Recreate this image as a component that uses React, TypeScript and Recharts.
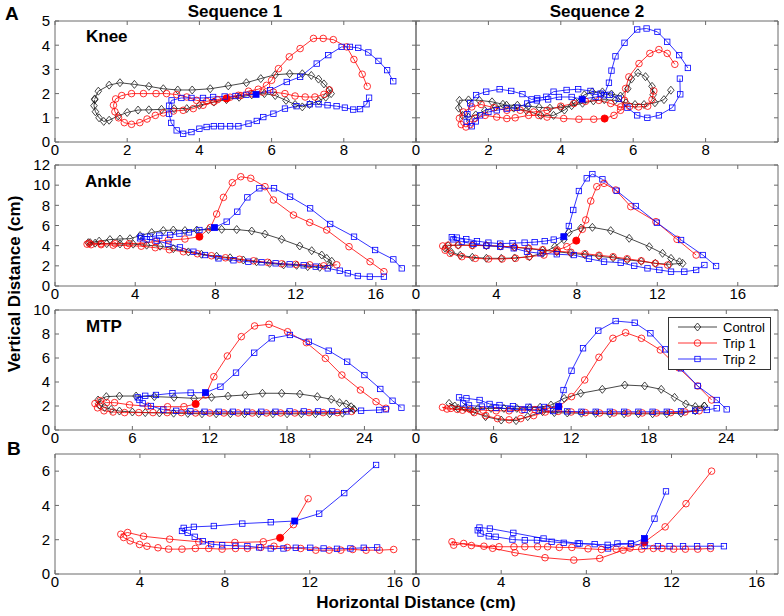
import React from 'react';
import { LineChart, Line, XAxis, YAxis } from 'recharts';

type Pt = [number, number];

// ---------- Knee ----------
const kneeSeq1Control: Pt[] = [
  [1.1, 1.78], [1.2, 2.1], [1.5, 2.35], [1.8, 2.45], [2.2, 2.38], [2.6, 2.3], [3.0, 2.2], [3.4, 2.15],
  [3.8, 2.15], [4.3, 2.2], [4.8, 2.32], [5.3, 2.45], [5.7, 2.62], [6.1, 2.78], [6.5, 2.82], [6.85, 2.82],
  [7.1, 2.75], [7.3, 2.6], [7.45, 2.4], [7.6, 2.15], [7.65, 2.0], [7.5, 1.85], [7.3, 1.7], [7.05, 1.55],
  [6.85, 1.45], [6.65, 1.55], [6.4, 1.72], [6.1, 1.92], [5.8, 2.0], [5.45, 1.95], [5.1, 1.85], [4.75, 1.75],
  [4.4, 1.65], [4.0, 1.52], [3.65, 1.38], [3.3, 1.38], [2.95, 1.35], [2.6, 1.33], [2.3, 1.32], [2.0, 1.22],
  [1.75, 1.08], [1.5, 0.9], [1.35, 0.85], [1.22, 1.0], [1.12, 1.25], [1.08, 1.5], [1.1, 1.75],
];
const kneeSeq1Trip1Pre: Pt[] = [
  [7.6, 2.15], [7.45, 1.97], [7.2, 1.86], [6.93, 1.86], [6.65, 1.9], [6.37, 2.0], [6.05, 2.06], [5.75, 2.06],
  [5.45, 2.0], [5.15, 1.92], [4.85, 1.85], [4.5, 1.75], [4.2, 1.68], [3.92, 1.72], [3.65, 1.86], [3.37, 1.96],
  [3.09, 2.0], [2.8, 2.0], [2.45, 2.0], [2.12, 2.0], [1.85, 1.92], [1.68, 1.78], [1.62, 1.52], [1.66, 1.25],
  [1.76, 1.0], [1.92, 0.8], [2.12, 0.73], [2.35, 0.8], [2.55, 0.95], [2.78, 1.1], [3.0, 1.2], [3.28, 1.28],
  [3.55, 1.31], [3.83, 1.38], [4.1, 1.52], [4.4, 1.66],
];
const kneeSeq1Trip1Post: Pt[] = [
  [4.75, 1.8], [5.08, 1.93], [5.36, 2.1], [5.63, 2.18], [5.86, 2.34], [6.0, 2.55], [6.19, 3.03], [6.49, 3.52],
  [6.79, 3.86], [7.16, 4.28], [7.43, 4.28], [7.71, 4.23], [8.08, 3.93], [8.28, 3.41], [8.51, 2.8], [8.65, 2.3],
];
const kneeSeq1Trip2Pre: Pt[] = [
  [8.7, 1.83], [8.63, 1.56], [8.45, 1.36], [8.26, 1.34], [8.03, 1.42], [7.8, 1.48], [7.55, 1.52], [7.3, 1.56],
  [7.06, 1.56], [6.69, 1.48], [6.37, 1.38], [6.05, 1.17], [5.77, 1.03], [5.59, 0.87], [5.36, 0.76], [5.08, 0.65],
  [4.85, 0.65], [4.6, 0.65], [4.4, 0.65], [4.2, 0.62], [4.0, 0.55], [3.78, 0.41], [3.55, 0.34], [3.37, 0.48],
  [3.22, 0.79], [3.16, 1.17], [3.16, 1.5], [3.23, 1.72], [3.5, 1.82], [3.78, 1.82], [4.1, 1.82], [4.38, 1.86],
  [4.7, 1.88], [5.0, 1.9], [5.3, 1.95],
];
const kneeSeq1Trip2Post: Pt[] = [
  [5.57, 1.97], [5.96, 2.14], [6.42, 2.48], [6.79, 2.69], [7.25, 3.24], [7.57, 3.59], [7.94, 3.93], [8.17, 3.93],
  [8.4, 3.89], [8.68, 3.7], [8.96, 3.35], [9.2, 2.97], [9.37, 2.51],
];
const kneeSeq2Control: Pt[] = [
  [7.04, 2.14], [6.85, 1.75], [6.6, 1.62], [6.3, 1.55], [6.05, 1.55], [5.8, 1.62], [5.5, 1.72], [5.2, 1.75],
  [4.9, 1.7], [4.6, 1.6], [4.3, 1.5], [4.0, 1.42], [3.7, 1.4], [3.4, 1.43], [3.1, 1.48], [2.8, 1.52],
  [2.5, 1.52], [2.2, 1.45], [1.9, 1.3], [1.65, 1.12], [1.45, 1.02], [1.28, 1.1], [1.18, 1.4], [1.2, 1.72],
  [1.45, 1.74], [1.75, 1.72], [2.1, 1.66], [2.4, 1.56], [2.7, 1.4], [3.05, 1.3], [3.45, 1.1], [3.8, 1.1],
  [4.1, 1.32], [4.4, 1.65], [4.65, 1.95], [4.87, 2.07], [5.15, 2.07], [5.4, 1.98], [5.65, 1.9], [5.85, 2.2],
  [5.95, 2.6], [6.13, 2.86], [6.34, 2.7], [6.52, 2.3], [6.55, 1.95],
];
const kneeSeq2Trip1Pre: Pt[] = [
  [6.57, 2.11], [6.52, 1.75], [6.4, 1.48], [6.15, 1.45], [5.9, 1.47], [5.65, 1.45], [5.38, 1.59], [5.05, 1.72],
  [4.68, 1.68], [4.36, 1.59], [4.0, 1.48], [3.62, 1.31], [3.25, 1.24], [2.88, 1.31], [2.51, 1.31], [2.15, 1.42],
  [1.8, 1.55], [1.54, 1.45], [1.31, 1.24], [1.2, 0.98], [1.25, 0.72], [1.38, 0.62], [1.5, 0.72], [1.63, 0.98],
  [1.91, 1.1], [2.23, 1.03], [2.51, 0.97], [2.74, 1.0], [3.11, 1.1], [3.39, 1.1], [3.62, 1.03], [4.08, 0.97],
  [4.5, 0.94], [4.91, 0.94],
];
const kneeSeq2Trip1Post: Pt[] = [
  [5.21, 0.97], [5.47, 1.1], [5.65, 1.31], [5.76, 1.72], [5.79, 2.21], [5.88, 2.69], [6.16, 3.24], [6.46, 3.66],
  [6.71, 3.82], [6.94, 3.66], [7.15, 3.21],
];
const kneeSeq2Trip2Pre: Pt[] = [
  [7.29, 2.62], [7.3, 1.97], [7.08, 1.42], [6.71, 1.1], [6.39, 1.0], [6.11, 1.1], [5.84, 1.42], [5.6, 1.79],
  [5.35, 1.95], [5.1, 2.0], [4.82, 2.11], [4.48, 2.18], [4.16, 2.15], [3.8, 2.08], [3.6, 1.87], [3.35, 1.8],
  [3.19, 1.76], [2.94, 1.98], [2.63, 2.11], [2.31, 2.18], [1.94, 2.08], [1.66, 1.94], [1.5, 1.6], [1.42, 1.15],
  [1.4, 0.83], [1.54, 0.65], [1.65, 0.85], [1.77, 1.1], [2.0, 1.24], [2.23, 1.31], [2.51, 1.38], [2.79, 1.42],
  [3.07, 1.59], [3.34, 1.72], [3.65, 1.76], [3.95, 1.86], [4.3, 1.86],
];
const kneeSeq2Trip2Post: Pt[] = [
  [4.59, 1.77], [4.96, 1.86], [5.19, 1.93], [5.33, 2.45], [5.4, 2.95], [5.51, 3.54], [5.76, 4.1], [6.11, 4.65],
  [6.37, 4.69], [6.67, 4.55], [6.94, 4.14], [7.27, 3.59], [7.51, 3.06],
];

// ---------- Ankle ----------
const ankleSeq1Control: Pt[] = [
  [1.75, 4.3], [2.2, 4.45], [2.74, 4.6], [3.24, 4.66], [3.74, 4.69], [4.24, 5.0], [4.82, 5.3], [5.4, 5.5],
  [5.9, 5.55], [6.48, 5.5], [7.07, 5.55], [7.65, 5.6], [8.31, 5.62], [9.06, 5.6], [9.81, 5.45], [10.47, 5.15],
  [11.3, 4.63], [12.2, 3.97], [12.8, 3.5], [13.3, 3.07], [13.55, 2.74], [13.8, 2.45], [13.7, 2.05], [13.2, 1.85],
  [12.6, 1.92], [12.05, 2.05], [11.4, 2.1], [10.7, 2.25], [10.05, 2.4], [9.39, 2.58], [8.73, 2.8], [8.06, 2.95],
  [7.3, 3.15], [6.65, 3.38], [5.9, 3.7], [5.24, 3.95], [4.57, 4.05], [3.9, 4.15], [3.24, 4.17], [2.58, 4.2],
  [2.0, 4.25], [1.66, 4.3],
];
const ankleSeq1Trip1Pre: Pt[] = [
  [14.05, 2.1], [13.4, 2.0], [12.7, 2.1], [12.0, 2.15], [11.3, 2.2], [10.6, 2.35], [9.9, 2.5], [9.2, 2.65],
  [8.5, 2.8], [7.8, 3.0], [7.1, 3.2], [6.4, 3.4], [5.7, 3.6], [5.0, 3.8], [4.3, 3.95], [3.6, 4.0],
  [2.9, 4.05], [2.3, 4.1], [1.8, 4.1], [1.6, 4.15], [1.7, 4.25], [2.3, 4.2], [3.0, 4.2], [3.7, 4.2],
  [4.4, 4.25], [5.0, 4.4], [5.65, 4.56], [6.48, 4.66],
];
const ankleSeq1Trip1Post: Pt[] = [
  [7.2, 4.89], [7.75, 5.8], [8.06, 7.14], [8.4, 8.79], [8.84, 10.25], [9.26, 10.84], [9.76, 10.68], [10.47, 9.85],
  [10.89, 8.53], [11.89, 7.04], [12.7, 6.3], [13.55, 5.55], [14.66, 3.9], [15.71, 2.41], [16.4, 1.42],
];
const ankleSeq1Trip2Pre: Pt[] = [
  [16.4, 0.93], [15.7, 0.93], [15.1, 0.99], [14.6, 1.26], [14.2, 1.52], [13.6, 1.75], [13.0, 1.92], [12.4, 2.05],
  [11.7, 2.15], [11.0, 2.25], [10.3, 2.35], [9.64, 2.41], [8.9, 2.55], [8.15, 2.74], [7.48, 3.07], [6.9, 3.4],
  [6.23, 3.83], [5.65, 4.17], [5.07, 4.5], [4.57, 4.63], [4.24, 4.73], [4.3, 4.9], [4.74, 4.89], [5.2, 5.0],
  [5.74, 5.06], [6.2, 5.2], [6.68, 5.32], [7.2, 5.55],
];
const ankleSeq1Trip2Post: Pt[] = [
  [7.95, 5.79], [8.56, 6.38], [9.09, 7.37], [9.59, 8.79], [10.19, 9.69], [10.92, 9.69], [11.72, 8.86], [12.72, 7.7],
  [13.72, 6.15], [14.91, 4.89], [15.96, 3.57], [16.87, 2.64], [17.29, 1.75],
];
const ankleSeq2Control: Pt[] = [
  [13.26, 2.25], [12.6, 2.15], [11.9, 2.25], [11.2, 2.45], [10.5, 2.6], [9.8, 2.8], [9.1, 2.95], [8.4, 3.1],
  [7.7, 3.25], [7.0, 3.4], [6.3, 3.55], [5.6, 3.7], [4.9, 3.85], [4.2, 3.95], [3.5, 4.0], [2.8, 4.05],
  [2.1, 4.05], [1.6, 4.0], [1.45, 3.75], [1.75, 3.35], [2.2, 3.05], [2.8, 2.85], [3.5, 2.75], [4.24, 2.74],
  [4.9, 2.78], [5.65, 2.91], [6.3, 3.25], [6.9, 3.9], [7.35, 4.6], [7.6, 5.3], [8.2, 5.75], [8.77, 5.82],
  [9.68, 5.49], [10.6, 4.73], [11.6, 3.9], [12.26, 3.24], [12.68, 2.74], [13.1, 2.4],
];
const ankleSeq2Trip1Pre: Pt[] = [
  [12.51, 2.08], [11.9, 2.25], [11.2, 2.5], [10.5, 2.7], [9.8, 2.9], [9.1, 3.05], [8.4, 3.2], [7.7, 3.35],
  [7.0, 3.45], [6.3, 3.6], [5.6, 3.75], [4.9, 3.85], [4.2, 3.95], [3.5, 4.0], [2.8, 4.02], [2.1, 4.05],
  [1.6, 4.05], [1.33, 3.97], [1.45, 3.55], [1.7, 3.24], [2.28, 2.91], [2.95, 2.74], [3.61, 2.68], [4.28, 2.68],
  [4.95, 2.75], [5.61, 2.91], [6.36, 3.07], [7.02, 3.57], [7.5, 3.9],
];
const ankleSeq2Trip1Post: Pt[] = [
  [7.97, 4.5], [8.27, 5.62], [8.44, 6.55], [8.69, 8.43], [8.99, 9.85], [9.35, 10.18], [9.93, 9.52], [10.68, 7.87],
  [11.93, 6.38], [12.98, 4.63], [13.93, 3.07],
];
const ankleSeq2Trip2Pre: Pt[] = [
  [14.34, 2.08], [13.93, 1.59], [13.34, 1.42], [12.68, 1.42], [12.1, 1.59], [11.51, 1.75], [10.85, 2.0], [10.18, 2.31],
  [9.35, 2.41], [8.6, 2.7], [7.85, 3.07], [7.0, 3.15], [6.19, 3.24], [5.52, 3.4], [4.86, 3.74], [4.19, 3.9],
  [3.5, 4.0], [2.86, 4.17], [2.28, 4.4], [1.86, 4.63], [1.78, 4.83], [2.03, 4.8], [2.5, 4.65], [3.03, 4.45],
  [3.6, 4.3], [4.19, 4.2], [4.8, 4.25], [5.4, 4.3], [5.9, 4.35], [6.4, 4.45], [6.85, 4.6],
];
const ankleSeq2Trip2Post: Pt[] = [
  [7.35, 4.89], [7.6, 5.95], [7.82, 7.54], [8.1, 9.42], [8.49, 10.68], [8.77, 11.1], [9.27, 10.58], [9.98, 9.45],
  [10.93, 7.93], [11.98, 6.28], [13.18, 4.56], [14.26, 3.07], [14.92, 1.98],
];

// ---------- MTP ----------
const mtpSeq1Control: Pt[] = [
  [23.18, 1.72], [22.3, 1.4], [21.3, 1.35], [20.2, 1.35], [19.1, 1.35], [18.0, 1.35], [16.9, 1.35], [15.8, 1.35],
  [14.7, 1.35], [13.6, 1.35], [12.5, 1.35], [11.4, 1.35], [10.3, 1.38], [9.2, 1.4], [8.1, 1.42], [7.0, 1.45],
  [6.0, 1.5], [5.0, 1.58], [4.36, 1.72], [3.85, 1.89], [3.47, 2.08], [3.34, 2.5], [3.98, 2.78], [5.0, 2.83],
  [6.29, 2.83], [7.7, 2.78], [9.24, 2.72], [10.78, 2.64], [12.14, 2.72], [13.42, 2.83], [14.76, 2.92], [16.09, 3.06],
  [17.58, 3.06], [18.99, 3.0], [20.35, 2.78], [21.43, 2.56], [22.07, 2.28], [22.59, 2.17], [22.97, 1.94], [23.18, 1.72],
];
const mtpSeq1Trip1Pre: Pt[] = [
  [23.0, 1.55], [21.9, 1.45], [20.8, 1.45], [19.7, 1.45], [18.6, 1.42], [17.5, 1.42], [16.4, 1.42], [15.3, 1.42],
  [14.2, 1.42], [13.1, 1.42], [12.0, 1.42], [10.9, 1.42], [9.8, 1.45], [8.7, 1.45], [7.6, 1.45], [6.5, 1.45],
  [5.4, 1.45], [4.5, 1.5], [3.8, 1.6], [3.3, 1.85], [3.1, 2.2], [3.5, 2.45], [4.0, 2.28], [4.62, 2.28],
  [5.78, 2.1], [7.2, 1.98], [8.73, 1.94], [10.0, 1.94],
];
const mtpSeq1Trip1Post: Pt[] = [
  [10.91, 2.17], [11.68, 2.92], [12.32, 4.44], [13.37, 6.17], [14.45, 7.78], [15.48, 8.67], [16.6, 8.81], [18.04, 8.19],
  [19.5, 7.28], [20.97, 5.97], [22.25, 4.58], [23.69, 3.33], [24.9, 2.36], [25.67, 1.81],
];
const mtpSeq1Trip2Pre: Pt[] = [
  [25.67, 1.72], [25.15, 1.67], [23.74, 1.61], [22.6, 1.55], [21.5, 1.55], [20.4, 1.55], [19.3, 1.55], [18.2, 1.55],
  [17.1, 1.52], [16.0, 1.52], [14.9, 1.52], [13.8, 1.52], [12.7, 1.52], [11.6, 1.52], [10.5, 1.55], [9.4, 1.6],
  [8.4, 1.7], [7.44, 2.0], [6.8, 2.22], [6.55, 2.5], [6.42, 2.72], [7.0, 2.85], [7.83, 2.92], [9.11, 3.06],
  [10.52, 3.11],
];
const mtpSeq1Trip2Post: Pt[] = [
  [11.68, 3.11], [12.83, 3.61], [14.04, 4.78], [15.45, 6.44], [16.81, 7.64], [18.22, 7.92], [19.69, 7.36], [21.23, 6.61],
  [22.66, 5.69], [24.0, 4.58], [25.23, 3.42], [26.18, 2.44], [26.87, 1.86],
];
const mtpSeq2Control: Pt[] = [
  [22.3, 2.0], [21.6, 1.6], [20.5, 1.4], [19.4, 1.35], [18.3, 1.35], [17.2, 1.35], [16.1, 1.35], [15.0, 1.35],
  [13.9, 1.38], [12.8, 1.4], [11.7, 1.42], [10.7, 1.45], [9.79, 1.53], [8.64, 1.11], [7.74, 0.78], [6.59, 0.83],
  [5.38, 1.11], [4.41, 1.53], [3.26, 1.81], [2.56, 2.22], [3.0, 2.0], [3.8, 1.85], [4.8, 1.8], [5.8, 1.8],
  [6.8, 1.8], [7.8, 1.8], [8.8, 1.85], [9.6, 1.9], [10.44, 2.08], [11.46, 2.64], [12.74, 3.06], [14.41, 3.39],
  [16.15, 3.75], [17.69, 3.67], [18.97, 3.39], [20.0, 2.72], [20.87, 2.17], [21.6, 1.95], [22.3, 2.0],
];
const mtpSeq2Trip1Pre: Pt[] = [
  [21.9, 1.6], [20.8, 1.5], [19.7, 1.45], [18.6, 1.42], [17.5, 1.42], [16.4, 1.42], [15.3, 1.42], [14.2, 1.42],
  [13.1, 1.45], [12.0, 1.5], [11.0, 1.55], [10.0, 1.5], [9.1, 1.2], [8.1, 0.95], [7.2, 0.85], [6.3, 0.95],
  [5.4, 1.2], [4.5, 1.45], [3.6, 1.65], [2.7, 1.8], [2.05, 1.89], [2.4, 1.75], [3.2, 1.72], [4.2, 1.7],
  [5.2, 1.65], [6.2, 1.6], [7.2, 1.6], [8.2, 1.65], [9.2, 1.7], [10.2, 1.8],
];
const mtpSeq2Trip1Post: Pt[] = [
  [11.03, 1.94], [12.03, 2.78], [13.05, 4.17], [14.15, 6.06], [15.23, 7.64], [16.21, 8.11], [17.44, 7.64], [18.9, 6.67],
  [20.3, 5.2], [21.79, 3.67], [22.87, 2.5],
];
const mtpSeq2Trip2Pre: Pt[] = [
  [23.26, 1.81], [22.49, 1.67], [21.59, 1.61], [20.5, 1.55], [19.4, 1.52], [18.3, 1.52], [17.2, 1.52], [16.1, 1.52],
  [15.0, 1.52], [13.9, 1.52], [12.8, 1.52], [11.7, 1.55], [10.6, 1.58], [9.5, 1.62], [8.4, 1.68], [7.3, 1.75],
  [6.2, 1.85], [5.1, 1.95], [4.1, 2.05], [3.64, 2.22], [3.33, 2.72], [3.9, 2.64], [4.92, 2.5], [5.69, 2.17],
  [6.46, 2.08], [7.5, 1.98], [8.7, 1.93], [9.9, 1.92],
];
const mtpSeq2Trip2Post: Pt[] = [
  [11.03, 1.95], [11.41, 3.33], [12.03, 4.94], [12.92, 6.81], [14.1, 8.28], [15.44, 9.08], [16.92, 8.94], [18.13, 8.06],
  [19.28, 6.72], [20.49, 5.14], [21.79, 3.67], [23.26, 2.5], [24.03, 1.72],
];

// ---------- B ----------
const bSeq1Trip1Pre: Pt[] = [
  [15.95, 1.43], [15.28, 1.39], [14.65, 1.39], [14.02, 1.43], [13.46, 1.39], [12.91, 1.39], [12.28, 1.39], [11.57, 1.49],
  [10.94, 1.55], [10.31, 1.62], [9.69, 1.55], [9.06, 1.49], [8.5, 1.49], [7.87, 1.45], [7.24, 1.49], [6.61, 1.49],
  [5.98, 1.45], [5.35, 1.45], [4.85, 1.53], [4.33, 1.62], [3.98, 1.72], [3.54, 1.93], [3.23, 2.13], [3.1, 2.32],
  [3.42, 2.42], [4.17, 2.2], [5.4, 2.03], [6.77, 1.88], [8.47, 1.84], [9.81, 1.88],
];
const bSeq1Trip1Post: Pt[] = [[10.6, 2.11], [11.23, 2.88], [11.92, 4.39]];
const bSeq1Trip2Pre: Pt[] = [
  [15.17, 1.55], [14.54, 1.53], [13.91, 1.49], [13.28, 1.47], [12.65, 1.49], [12.02, 1.53], [11.34, 1.53], [10.76, 1.49],
  [10.16, 1.49], [9.61, 1.55], [9.06, 1.62], [8.5, 1.64], [7.87, 1.68], [7.35, 1.74], [6.96, 1.91], [6.58, 2.17],
  [6.25, 2.4], [5.98, 2.51], [6.06, 2.69], [6.54, 2.75], [7.48, 2.8], [8.82, 2.94], [10.16, 3.02],
];
const bSeq1Trip2Post: Pt[] = [[11.29, 3.09], [12.44, 3.52], [13.62, 4.72], [15.12, 6.36]];
const bSeq2Trip1Pre: Pt[] = [
  [13.83, 1.49], [13.23, 1.45], [12.65, 1.45], [12.1, 1.45], [11.55, 1.49], [11.15, 1.49], [10.6, 1.45], [9.73, 1.39],
  [8.63, 0.91], [7.41, 0.81], [6.06, 0.95], [4.65, 1.24], [3.6, 1.5], [2.6, 1.66], [1.69, 1.88], [1.77, 1.68],
  [2.24, 1.78], [3.19, 1.62], [3.9, 1.59], [4.6, 1.59], [5.11, 1.59], [5.71, 1.59], [6.18, 1.59], [6.73, 1.55],
  [7.32, 1.55], [8.08, 1.47], [8.71, 1.43], [9.4, 1.45], [10.05, 1.51],
];
const bSeq2Trip1Post: Pt[] = [[10.73, 1.86], [11.7, 2.75], [12.68, 4.1], [13.88, 6.0]];
const bSeq2Trip2Pre: Pt[] = [
  [14.46, 1.62], [13.83, 1.62], [13.2, 1.62], [12.54, 1.62], [11.91, 1.62], [11.36, 1.62], [10.73, 1.65], [10.09, 1.78],
  [9.46, 1.78], [9.02, 1.49], [8.39, 1.74], [7.68, 1.78], [6.94, 1.82], [6.37, 1.88], [5.68, 1.97], [5.11, 1.97],
  [4.53, 2.01], [3.74, 2.17], [3.42, 2.2], [3.03, 2.36], [2.9, 2.55], [2.98, 2.71], [3.47, 2.65], [4.57, 2.4],
  [5.99, 2.07], [7.6, 1.78], [9.0, 1.7], [10.1, 1.75],
];
const bSeq2Trip2Post: Pt[] = [[10.73, 2.07], [11.2, 3.23], [11.74, 4.82]];

// axis ticks
const kneeXTicks = [0, 2, 4, 6, 8, 10];
const kneeYTicks = [0, 1, 2, 3, 4, 5];
const ankleXTicks = [0, 4, 8, 12, 16];
const ankleYTicks = [0, 2, 4, 6, 8, 10, 12];
const mtpXTicks = [0, 6, 12, 18, 24];
const mtpYTicks = [0, 2, 4, 6, 8, 10];
const bXTicks = [0, 4, 8, 12, 16];
const bYTicks = [0, 2, 4, 6];

const legendLabels = ['Control', 'Trip 1', 'Trip 2'];

const FONT = '"Liberation Sans", Arial, Helvetica, sans-serif';
const AXIS = '#6a6a6a';

type Kind = 'control' | 'trip1' | 'trip2';
const COLORS: Record<Kind, string> = { control: '#1a1a1a', trip1: '#ff0000', trip2: '#0000ff' };

type Row = { x: number; y: number; onset?: boolean };
const toRows = (pts: Pt[]): Row[] => pts.map(([x, y]) => ({ x, y }));
const tripRows = (pre: Pt[], post: Pt[]): Row[] => [
  ...toRows(pre),
  ...post.map(([x, y], i) => ({ x, y, onset: i === 0 })),
];

function Marker({ kind, cx, cy, filled }: { kind: Kind; cx: number; cy: number; filled?: boolean }) {
  const c = COLORS[kind];
  if (kind === 'control') {
    return (
      <polygon
        points={`${cx},${cy - 4} ${cx + 3.3},${cy} ${cx},${cy + 4} ${cx - 3.3},${cy}`}
        fill="none"
        stroke={c}
        strokeWidth={0.8}
      />
    );
  }
  if (kind === 'trip1') {
    return <circle cx={cx} cy={cy} r={filled ? 3.6 : 3.3} fill={filled ? c : 'none'} stroke={c} strokeWidth={0.8} />;
  }
  const h = filled ? 3 : 2.7;
  return <rect x={cx - h} y={cy - h} width={2 * h} height={2 * h} fill={filled ? c : 'none'} stroke={c} strokeWidth={0.8} />;
}

interface Series {
  kind: Kind;
  rows: Row[];
}

interface PanelProps {
  left: number;
  top: number;
  width: number;
  height: number;
  xMax: number;
  xTicks: number[];
  yMax: number;
  yTicks: number[];
  showY: boolean;
  hideXMax?: boolean;
  series: Series[];
}

const L = 40;
const R = 6;
const T = 12;
const B = 26;

function Panel(p: PanelProps) {
  const tickStyle = { fill: '#000', fontSize: 15, fontFamily: FONT };
  return (
    <div style={{ position: 'absolute', left: p.left - L, top: p.top - T }}>
      <LineChart width={p.width + L + R} height={p.height + T + B} margin={{ top: 0, right: 0, bottom: 0, left: 0 }}>
        <XAxis
          xAxisId="b"
          type="number"
          dataKey="x"
          domain={[0, p.xMax]}
          ticks={p.xTicks}
          interval={0}
          height={B}
          stroke={AXIS}
          tickSize={-4}
          tickMargin={6}
          tick={tickStyle}
          tickFormatter={(v: number) => (p.hideXMax && v === p.xMax ? '' : String(v))}
          allowDataOverflow
        />
        <XAxis
          xAxisId="t"
          orientation="top"
          type="number"
          dataKey="x"
          domain={[0, p.xMax]}
          ticks={p.xTicks}
          interval={0}
          height={T}
          stroke={AXIS}
          tickSize={-4}
          tickFormatter={() => ''}
          allowDataOverflow
        />
        <YAxis
          yAxisId="l"
          type="number"
          domain={[0, p.yMax]}
          ticks={p.yTicks}
          interval={0}
          width={L}
          stroke={AXIS}
          tickSize={-4}
          tickMargin={9}
          tick={tickStyle}
          tickFormatter={(v: number) => (p.showY ? String(v) : '')}
          allowDataOverflow
        />
        <YAxis
          yAxisId="r"
          orientation="right"
          type="number"
          domain={[0, p.yMax]}
          ticks={p.yTicks}
          interval={0}
          width={R}
          stroke={AXIS}
          tickSize={-4}
          tickFormatter={() => ''}
          allowDataOverflow
        />
        {p.series.map((s, i) => (
          <Line
            key={i}
            xAxisId="b"
            yAxisId="l"
            data={s.rows}
            dataKey="y"
            type="linear"
            stroke={COLORS[s.kind]}
            strokeWidth={0.8}
            activeDot={false}
            isAnimationActive={false}
            dot={(d: any) => (
              <Marker key={`m${d.index}`} kind={s.kind} cx={d.cx} cy={d.cy} filled={!!(d.payload && d.payload.onset)} />
            )}
          />
        ))}
      </LineChart>
    </div>
  );
}

const COLS = [
  { left: 55, width: 361 },
  { left: 416, width: 362 },
];
const ROWS = [
  { top: 21, height: 121 },
  { top: 165, height: 121 },
  { top: 310, height: 120 },
  { top: 454, height: 120 },
];

export default function App() {
  const kneeS1 = [
    { kind: 'control' as Kind, rows: toRows(kneeSeq1Control) },
    { kind: 'trip1' as Kind, rows: tripRows(kneeSeq1Trip1Pre, kneeSeq1Trip1Post) },
    { kind: 'trip2' as Kind, rows: tripRows(kneeSeq1Trip2Pre, kneeSeq1Trip2Post) },
  ];
  const kneeS2 = [
    { kind: 'control' as Kind, rows: toRows(kneeSeq2Control) },
    { kind: 'trip1' as Kind, rows: tripRows(kneeSeq2Trip1Pre, kneeSeq2Trip1Post) },
    { kind: 'trip2' as Kind, rows: tripRows(kneeSeq2Trip2Pre, kneeSeq2Trip2Post) },
  ];
  const ankleS1 = [
    { kind: 'control' as Kind, rows: toRows(ankleSeq1Control) },
    { kind: 'trip1' as Kind, rows: tripRows(ankleSeq1Trip1Pre, ankleSeq1Trip1Post) },
    { kind: 'trip2' as Kind, rows: tripRows(ankleSeq1Trip2Pre, ankleSeq1Trip2Post) },
  ];
  const ankleS2 = [
    { kind: 'control' as Kind, rows: toRows(ankleSeq2Control) },
    { kind: 'trip1' as Kind, rows: tripRows(ankleSeq2Trip1Pre, ankleSeq2Trip1Post) },
    { kind: 'trip2' as Kind, rows: tripRows(ankleSeq2Trip2Pre, ankleSeq2Trip2Post) },
  ];
  const mtpS1 = [
    { kind: 'control' as Kind, rows: toRows(mtpSeq1Control) },
    { kind: 'trip1' as Kind, rows: tripRows(mtpSeq1Trip1Pre, mtpSeq1Trip1Post) },
    { kind: 'trip2' as Kind, rows: tripRows(mtpSeq1Trip2Pre, mtpSeq1Trip2Post) },
  ];
  const mtpS2 = [
    { kind: 'control' as Kind, rows: toRows(mtpSeq2Control) },
    { kind: 'trip1' as Kind, rows: tripRows(mtpSeq2Trip1Pre, mtpSeq2Trip1Post) },
    { kind: 'trip2' as Kind, rows: tripRows(mtpSeq2Trip2Pre, mtpSeq2Trip2Post) },
  ];
  const bS1 = [
    { kind: 'trip1' as Kind, rows: tripRows(bSeq1Trip1Pre, bSeq1Trip1Post) },
    { kind: 'trip2' as Kind, rows: tripRows(bSeq1Trip2Pre, bSeq1Trip2Post) },
  ];
  const bS2 = [
    { kind: 'trip1' as Kind, rows: tripRows(bSeq2Trip1Pre, bSeq2Trip1Post) },
    { kind: 'trip2' as Kind, rows: tripRows(bSeq2Trip2Pre, bSeq2Trip2Post) },
  ];

  const rowsCfg = [
    { xMax: 10, xTicks: kneeXTicks, yMax: 5, yTicks: kneeYTicks, data: [kneeS1, kneeS2] },
    { xMax: 18, xTicks: ankleXTicks, yMax: 12, yTicks: ankleYTicks, data: [ankleS1, ankleS2] },
    { xMax: 28, xTicks: mtpXTicks, yMax: 10, yTicks: mtpYTicks, data: [mtpS1, mtpS2] },
    { xMax: 17, xTicks: bXTicks, yMax: 7, yTicks: bYTicks, data: [bS1, bS2] },
  ];

  const kinds: Kind[] = ['control', 'trip1', 'trip2'];

  return (
    <div
      style={{
        position: 'absolute',
        left: 0,
        top: 0,
        width: 784,
        height: 616,
        overflow: 'hidden',
        background: '#fff',
        fontFamily: FONT,
      }}
    >
      <svg width={784} height={616} style={{ position: 'absolute', left: 0, top: 0 }}>
        <g fontFamily={FONT} fontWeight="bold" fill="#000">
          <text x={5} y={20} fontSize={19}>A</text>
          <text x={7} y={455} fontSize={19}>B</text>
          <text x={235} y={17} fontSize={17} textAnchor="middle">Sequence 1</text>
          <text x={597} y={17} fontSize={17} textAnchor="middle">Sequence 2</text>
          <text x={86} y={42} fontSize={17}>Knee</text>
          <text x={85} y={187} fontSize={17}>Ankle</text>
          <text x={86} y={332} fontSize={17}>MTP</text>
          <text x={416} y={608} fontSize={17} textAnchor="middle">Horizontal Distance (cm)</text>
          <text transform="translate(20,284) rotate(-90)" fontSize={17} textAnchor="middle">
            Vertical Distance (cm)
          </text>
        </g>
      </svg>
      {ROWS.map((row, ri) =>
        COLS.map((col, ci) => (
          <Panel
            key={`${ri}-${ci}`}
            left={col.left}
            top={row.top}
            width={col.width}
            height={row.height}
            xMax={rowsCfg[ri].xMax}
            xTicks={rowsCfg[ri].xTicks}
            yMax={rowsCfg[ri].yMax}
            yTicks={rowsCfg[ri].yTicks}
            showY={ci === 0}
            hideXMax
            series={rowsCfg[ri].data[ci]}
          />
        ))
      )}
      <svg width={103} height={53} style={{ position: 'absolute', left: 668, top: 317 }}>
        <rect x={0.5} y={0.5} width={102} height={52} fill="#fff" stroke="#333" strokeWidth={1} />
        {kinds.map((k, i) => {
          const y = 10 + i * 16;
          return (
            <g key={k}>
              <line x1={10} x2={49} y1={y} y2={y} stroke={COLORS[k]} strokeWidth={0.8} />
              <Marker kind={k} cx={29.5} cy={y} />
              <text x={55} y={y + 4.6} fontSize={13} fontFamily={FONT} fill="#000">
                {legendLabels[i]}
              </text>
            </g>
          );
        })}
      </svg>
    </div>
  );
}
